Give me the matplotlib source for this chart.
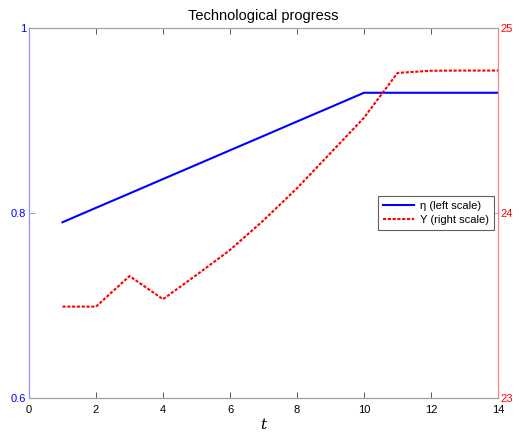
import matplotlib
matplotlib.use("Agg")
import matplotlib.pyplot as plt

t = [1, 2, 3, 4, 5, 6, 7, 8, 9, 10, 11, 12, 13, 14]
eta = [0.7900, 0.8056, 0.8211, 0.8367, 0.8522, 0.8678, 0.8833, 0.8989, 0.9144, 0.9300,
       0.9300, 0.9300, 0.9300, 0.9300]
Y = [23.494, 23.494, 23.659, 23.534, 23.665, 23.80, 23.96, 24.134, 24.324, 24.515,
     24.757, 24.769, 24.770, 24.770]

xticks = [0, 2, 4, 6, 8, 10, 12, 14]
lticks = [0.6, 0.8, 1.0]
lticklabels = ["0.6", "0.8", "1"]
rticks = [23, 24, 25]
rticklabels = ["23", "24", "25"]

plt.rcParams['font.family'] = ['Liberation Sans', 'DejaVu Sans']

fig = plt.figure(figsize=(5.21, 4.32), dpi=100)
ax = fig.add_axes([29/521, 34/432, 469/521, 370/432])
ax2 = ax.twinx()

l1, = ax.plot(t, eta, color='#0000ff', lw=1.5, label='η (left scale)')
l2, = ax2.plot(t, Y, color='#ff0000', lw=1.5, ls=(0, (1.5, 0.8)), label='Y (right scale)')

ax.set_xlim(0, 14)
ax.set_ylim(0.6, 1.0)
ax2.set_ylim(23, 25)
ax.set_xticks(xticks)
ax.set_xticklabels([str(v) for v in xticks])
ax.set_yticks(lticks)
ax.set_yticklabels(lticklabels)
ax2.set_yticks(rticks)
ax2.set_yticklabels(rticklabels)

for a in (ax, ax2):
    a.tick_params(direction='in', labelsize=8, length=4, width=0.6)
ax.tick_params(axis='x', top=True, colors='#404040', labelcolor='black', pad=5)
ax.tick_params(axis='y', colors='#8080ff', labelcolor='#0000ff', pad=2)
ax2.tick_params(axis='y', colors='#ff8080', labelcolor='#ff0000', pad=2)

for a in (ax, ax2):
    a.spines['top'].set_color('#a0a0a0')
    a.spines['bottom'].set_color('#a0a0a0')
    a.spines['left'].set_color('#9090ff')
    a.spines['right'].set_color('#ff8080')
    for s in a.spines.values():
        s.set_linewidth(0.8)

ax.set_title('Technological progress', fontsize=10.5, pad=6)
ax.set_xlabel('t', fontsize=11, style='italic', family='DejaVu Serif', labelpad=2)

leg = ax2.legend([l1, l2], ['η (left scale)', 'Y (right scale)'], loc='center right',
                 bbox_to_anchor=((494 - 29) / 469, 0.5), borderaxespad=0,
                 fontsize=8, fancybox=False,
                 framealpha=1, edgecolor='#606060', handlelength=2.8,
                 borderpad=0.45, labelspacing=0.35, handletextpad=0.5)
leg.get_frame().set_linewidth(0.8)

fig.savefig('out.png', dpi=100)
